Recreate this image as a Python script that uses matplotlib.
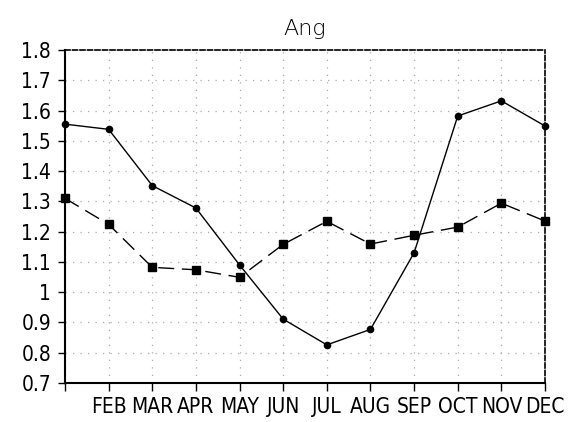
import matplotlib.pyplot as plt

# Monthly values
months = ['JAN', 'FEB', 'MAR', 'APR', 'MAY', 'JUN',
          'JUL', 'AUG', 'SEP', 'OCT', 'NOV', 'DEC']
month_labels = ['', 'FEB', 'MAR', 'APR', 'MAY', 'JUN',
                'JUL', 'AUG', 'SEP', 'OCT', 'NOV', 'DEC']
ang_circle = [1.555, 1.538, 1.352, 1.278, 1.090, 0.911,
              0.826, 0.877, 1.130, 1.582, 1.632, 1.549]
ang_square = [1.310, 1.224, 1.082, 1.074, 1.049, 1.158,
              1.234, 1.159, 1.188, 1.215, 1.294, 1.235]
y_ticks = [0.7, 0.8, 0.9, 1.0, 1.1, 1.2, 1.3, 1.4, 1.5, 1.6, 1.7, 1.8]
y_labels = ['0.7', '0.8', '0.9', '1', '1.1', '1.2', '1.3',
            '1.4', '1.5', '1.6', '1.7', '1.8']

fig = plt.figure(figsize=(5.73, 4.22), dpi=100)
ax = fig.add_axes([65 / 573, 1 - 383 / 422, 480 / 573, 333 / 422])

x = list(range(len(months)))

ax.plot(x, ang_circle, color='black', linewidth=1.0, marker='o',
        markersize=4.5, zorder=3, clip_on=False)
ax.plot(x, ang_square, color='black', linewidth=1.0, marker='s',
        markersize=5.5, dashes=(11.5, 5.5), zorder=3, clip_on=False)

ax.set_xlim(0, 11)
ax.set_ylim(0.7, 1.8)
ax.set_xticks(x)
ax.set_xticklabels(month_labels, fontfamily='DejaVu Sans',
                   fontstretch='condensed', fontsize=15)
ax.set_yticks(y_ticks)
ax.set_yticklabels(y_labels, fontfamily='DejaVu Sans',
                   fontstretch='condensed', fontsize=15)
ax.tick_params(axis='x', direction='out', length=6, width=1.0,
               color='black', pad=4)
ax.tick_params(axis='y', direction='out', length=5, width=1.0,
               color='black', pad=5)

ax.grid(True, color='#aaaaaa', linestyle=(0, (1, 5)), linewidth=0.9)
ax.set_axisbelow(True)

for side in ['left', 'bottom']:
    ax.spines[side].set_linewidth(1.5)
for side in ['top', 'right']:
    ax.spines[side].set_linewidth(1.2)
    ax.spines[side].set_linestyle((0, (3, 1.5)))

ax.set_title('Ang', fontfamily='DejaVu Sans', fontweight='light',
             fontsize=16, pad=11)

plt.savefig('out.png', dpi=100)
plt.close(fig)
